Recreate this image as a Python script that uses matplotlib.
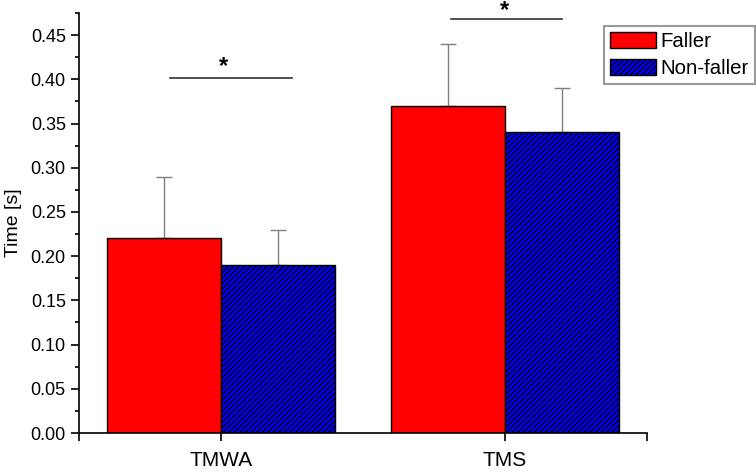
import matplotlib.pyplot as plt
import numpy as np

plt.rcParams['font.family'] = ['Liberation Sans', 'DejaVu Sans']
plt.rcParams['hatch.linewidth'] = 0.9

categories = ["TMWA", "TMS"]
faller = [0.22, 0.37]
faller_err = [0.07, 0.07]
nonfaller = [0.19, 0.34]
nonfaller_err = [0.04, 0.05]

fig = plt.figure(figsize=(7.56, 4.72), dpi=100)
ax = fig.add_axes([79/756, 39/472, 568/756, 420/472])

x = np.arange(1, len(categories) + 1)
w = 0.4
ekw = dict(ecolor="#808080", elinewidth=1, capsize=6, capthick=1)

ax.bar(x - w/2, faller, w, color="#ff0000", edgecolor="black", linewidth=1,
       label="Faller", zorder=2)
ax.errorbar(x - w/2, faller, yerr=[np.zeros(2), faller_err], fmt="none",
            zorder=1, **ekw)
ax.bar(x + w/2, nonfaller, w, color="#0000ee", edgecolor="black", linewidth=1,
       hatch="//////", label="Non-faller", zorder=2)
ax.errorbar(x + w/2, nonfaller, yerr=[np.zeros(2), nonfaller_err], fmt="none",
            zorder=1, **ekw)

# significance markers
ax.plot([1.0 - 0.18, 1.0 + 0.25], [0.401, 0.401], color="#333333", lw=1.2)
ax.text(1.01, 0.415, "*", ha="center", va="center", fontsize=17, fontweight="bold")
ax.plot([2.0 - 0.19, 2.0 + 0.2], [0.468, 0.468], color="#333333", lw=1.2,
        clip_on=False)
ax.text(2.0, 0.478, "*", ha="center", va="center", fontsize=17, fontweight="bold",
        clip_on=False)

ax.set_xlim(0.5, 2.5)
ax.set_ylim(0, 0.475)
ax.set_xticks(x)
ax.set_xticklabels(categories, fontsize=15)
ax.set_xticks([0.5, 2.5], minor=True)
ax.set_yticks(np.arange(0, 0.451, 0.05))
ax.set_yticklabels([f"{v:.2f}" for v in np.arange(0, 0.451, 0.05)], fontsize=13)
ax.set_yticks(np.arange(0.025, 0.476, 0.05), minor=True)
ax.tick_params(axis="both", which="major", direction="out", length=6, width=1.2)
ax.tick_params(axis="x", which="major", pad=7)
ax.tick_params(axis="y", which="minor", direction="out", length=3, width=1.2)
ax.tick_params(axis="x", which="minor", direction="out", length=6, width=1.2)
ax.set_ylabel("Time [s]", fontsize=14, labelpad=6)

for s in ["top", "right"]:
    ax.spines[s].set_visible(False)
for s in ["left", "bottom"]:
    ax.spines[s].set_linewidth(1.2)

leg = fig.legend(loc="upper left", bbox_to_anchor=(604/756, 1 - 26/472),
                 fontsize=14.7, fancybox=False, edgecolor="#808080",
                 handlelength=2.25, handleheight=0.8, handletextpad=0.2,
                 labelspacing=0.4, borderpad=0.3, borderaxespad=0)
leg.get_frame().set_linewidth(1.5)

fig.savefig("out.png", dpi=100)
